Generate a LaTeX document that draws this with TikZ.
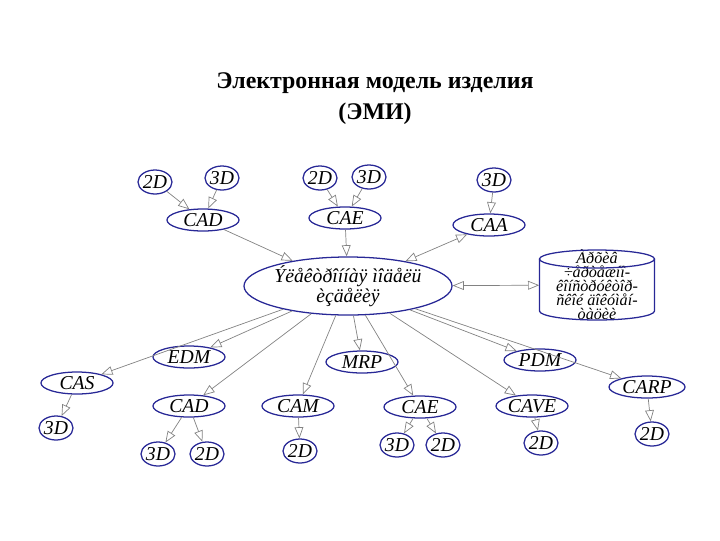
\documentclass[tikz,border=0pt]{standalone}
\usepackage{fontspec}
\setmainfont{Liberation Serif}
\usetikzlibrary{arrows.meta,shapes.geometric}
\definecolor{nodeblue}{RGB}{40,40,150}
\definecolor{edgegray}{RGB}{130,130,130}
\begin{document}
\begin{tikzpicture}[x=0.025cm,y=-0.025cm,
  >={Triangle[open,length=2.8mm,width=2.2mm]},
  font=\itshape\fontsize{14}{16}\selectfont,
  sys/.style={ellipse,draw=nodeblue,line width=0.9pt,inner sep=0pt,minimum width=1.8cm,minimum height=0.55cm},
  dim/.style={ellipse,draw=nodeblue,line width=0.9pt,inner sep=0pt,minimum width=0.85cm,minimum height=0.6cm},
  link/.style={draw=edgegray,line width=0.5pt,->}]
\useasboundingbox (0,0) rectangle (720,540);
% title
\node[font=\bfseries\fontsize{17}{22}\selectfont,align=center] (title) at (375,99)
  {Электронная модель изделия\\(ЭМИ)};
% central model
\node[ellipse,draw=nodeblue,line width=0.9pt,inner sep=0pt,minimum width=5.1cm,minimum height=1.05cm,align=center,
  font=\itshape\fontsize{14}{13}\selectfont] (emi) at (348,286) {Ýëåêòðîííàÿ ìîäåëü\\èçäåëèÿ};
% archive store (drawn as a cylinder)
\node[inner sep=0pt,minimum width=2.875cm,minimum height=1.75cm,align=center,
  font=\itshape\fontsize{11.5}{10}\selectfont] (arch) at (597,285)
  {Àðõèâ\\÷åðòåæíî-\\êîíñòðóêòîð-\\ñêîé äîêóìåí-\\òàöèè};
\draw[nodeblue,line width=0.9pt] (539.5,259) -- (539.5,311)
  arc[start angle=180,end angle=360,x radius=1.4375cm,y radius=0.225cm] -- (654.5,259);
\draw[nodeblue,line width=0.9pt] (597,259) ellipse[x radius=1.4375cm,y radius=0.225cm];
% upper systems
\node[sys] (cadA) at (203,220) {CAD};
\node[dim] (cadA2) at (155,182) {2D};
\node[dim] (cadA3) at (222,178) {3D};
\node[sys] (caeA) at (345,218) {CAE};
\node[dim] (caeA2) at (320,178) {2D};
\node[dim] (caeA3) at (369,177) {3D};
\node[sys] (caa) at (489,225) {CAA};
\node[dim] (caa3) at (494,180) {3D};
% lower systems
\node[sys] (edm) at (189,357) {EDM};
\node[sys] (mrp) at (362,362) {MRP};
\node[sys] (pdm) at (540,360) {PDM};
\node[sys] (cas) at (77,383) {CAS};
\node[sys] (cadB) at (189,406) {CAD};
\node[sys] (cam) at (298,406) {CAM};
\node[sys] (caeB) at (420,407) {CAE};
\node[sys] (cave) at (532,406) {CAVE};
\node[sys,minimum width=1.9cm] (carp) at (647,387) {CARP};
\node[dim] (cas3) at (56,428) {3D};
\node[dim] (cadB3) at (158,454) {3D};
\node[dim] (cadB2) at (207,454) {2D};
\node[dim] (cam2) at (300,451) {2D};
\node[dim] (caeB3) at (397,445) {3D};
\node[dim] (caeB2) at (443,445) {2D};
\node[dim] (cave2) at (541,443) {2D};
\node[dim] (carp2) at (652,434) {2D};
% connections
\draw[link] (cadA2) -- (cadA);
\draw[link] (cadA3) -- (cadA);
\draw[link] (cadA) -- (emi);
\draw[link] (caeA2) -- (caeA);
\draw[link] (caeA3) -- (caeA);
\draw[link] (caeA) -- (emi);
\draw[link] (caa3) -- (caa);
\draw[link,<->] (caa) -- (emi);
\draw[link,<->] (emi) -- (arch);
\draw[link] (emi) -- (cas);
\draw[link] (emi) -- (edm);
\draw[link] (emi) -- (cadB);
\draw[link] (emi) -- (cam);
\draw[link] (emi) -- (mrp);
\draw[link] (emi) -- (caeB);
\draw[link] (emi) -- (cave);
\draw[link] (emi) -- (pdm);
\draw[link] (emi) -- (carp);
\draw[link] (cas) -- (cas3);
\draw[link] (cadB) -- (cadB3);
\draw[link] (cadB) -- (cadB2);
\draw[link] (cam) -- (cam2);
\draw[link] (caeB) -- (caeB3);
\draw[link] (caeB) -- (caeB2);
\draw[link] (cave) -- (cave2);
\draw[link] (carp) -- (carp2);
\end{tikzpicture}
\end{document}
